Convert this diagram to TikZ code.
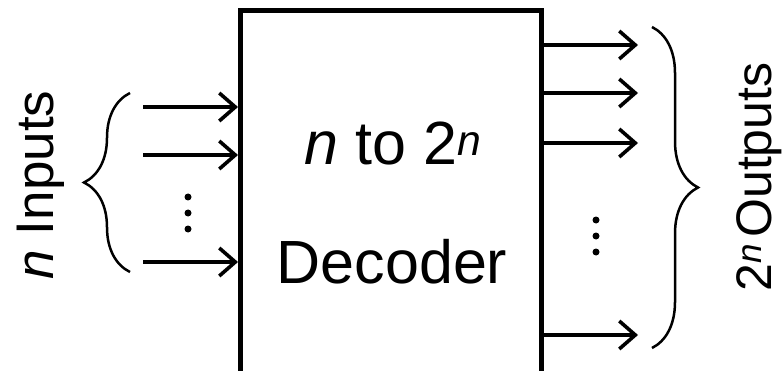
\documentclass[tikz,border=0pt]{standalone}
\usepackage{fontspec}
\setmainfont{Liberation Sans}
\usetikzlibrary{arrows.meta,decorations.pathreplacing}
\begin{document}
\begin{tikzpicture}[x=1pt,y=-1pt,
  sig/.style={line width=3.6pt,-{Straight Barb[length=16pt,width=28pt,line width=3.6pt]}},
  brc/.style={decorate,decoration={brace,amplitude=46pt,aspect=0.5},line width=2.5pt},
  big/.style={font=\fontsize{61}{70}\selectfont,inner sep=0pt,anchor=base},
  side/.style={inner sep=0pt,anchor=base,rotate=90},
  vdot/.style={circle,fill=black,inner sep=0pt,minimum size=7pt}]
\useasboundingbox (0,0) rectangle (783,371);
% box
\coordinate (bl) at (240,385);
\coordinate (br) at (541,385);
\draw[line width=5pt] (bl) -- (240,10.5) -- (541,10.5) -- (br);
\node[big] (t1) at (393,165) {\textit{n} to 2\textsuperscript{\textit{n}}};
\node[big] (t2) at (392,283) {Decoder};
% inputs
\foreach \y/\n in {107/i1,155/i2,262/i3}{
  \coordinate (\n s) at (143,\y);
  \coordinate (\n e) at (238,\y);
  \draw[sig] (\n s) -- (\n e);
}
\node[vdot] (d1) at (188,197) {};
\node[vdot] (d2) at (188,213) {};
\node[vdot] (d3) at (188,229) {};
% input brace
\coordinate (lb1) at (130,272);
\coordinate (lb2) at (130,93);
\draw[brc] (lb1) -- (lb2);
\node[side,font=\fontsize{53}{60}\selectfont] (inl) at (53,185) {\textit{n} Inputs};
% outputs
\foreach \y/\n in {45/o1,93/o2,143/o3,335/o4}{
  \coordinate (\n s) at (543,\y);
  \coordinate (\n e) at (638,\y);
  \draw[sig] (\n s) -- (\n e);
}
\node[vdot] (e1) at (596,220) {};
\node[vdot] (e2) at (596,236) {};
\node[vdot] (e3) at (596,252) {};
% output brace
\coordinate (rb1) at (652,27);
\coordinate (rb2) at (652,348);
\draw[brc] (rb1) -- (rb2);
\node[side,font=\fontsize{50}{58}\selectfont] (outl) at (771,177) {2\textsuperscript{\textit{n}}\hspace{0.12em}Outputs};
\end{tikzpicture}
\end{document}
